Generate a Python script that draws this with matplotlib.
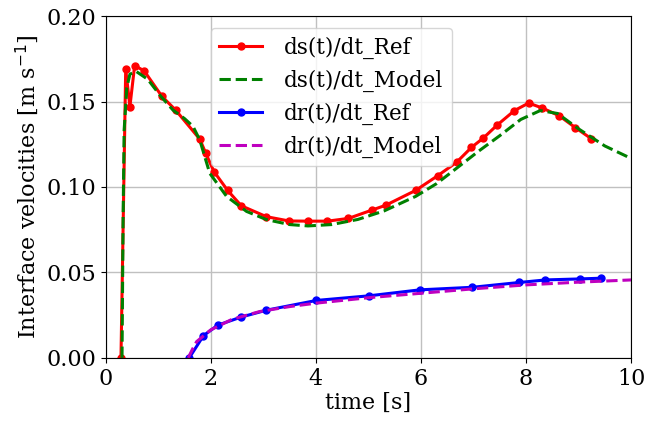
import matplotlib
matplotlib.use("Agg")
import matplotlib.pyplot as plt

plt.rcParams['font.family'] = ['DejaVu Serif']
plt.rcParams['font.size'] = 16

# ds/dt reference (markers)
t_s_ref = [0.29, 0.38, 0.46, 0.55, 0.73, 1.07, 1.33, 1.79, 1.90, 2.06, 2.32, 2.58,
           3.06, 3.49, 3.85, 4.22, 4.62, 5.06, 5.33, 5.90, 6.32, 6.68, 6.96, 7.19,
           7.45, 7.78, 8.05, 8.31, 8.63, 8.94, 9.24]
v_s_ref = [0.0, 0.169, 0.147, 0.171, 0.168, 0.153, 0.145, 0.128, 0.120, 0.109, 0.098, 0.089,
           0.0826, 0.0801, 0.0800, 0.0800, 0.0816, 0.0864, 0.0893, 0.098, 0.1066, 0.1145, 0.1231, 0.1287,
           0.1362, 0.1447, 0.1491, 0.1462, 0.1417, 0.1347, 0.1283]

# ds/dt model
t_s_mod = [0.31, 0.33, 0.35, 0.40, 0.46, 0.58, 0.80, 1.05, 1.28, 1.50, 1.66, 1.79, 1.98, 2.30,
           2.68, 3.06, 3.50, 3.85, 4.30, 4.80, 5.30, 5.90, 6.30, 6.68, 7.10, 7.50,
           7.90, 8.27, 8.60, 9.00, 9.50, 10.0]
v_s_mod = [0.0, 0.080, 0.133, 0.158, 0.166, 0.1676, 0.163, 0.153, 0.145, 0.140, 0.1355, 0.1275, 0.108, 0.0945,
           0.0857, 0.0809, 0.0780, 0.0772, 0.0780, 0.0810, 0.0860, 0.0945, 0.102, 0.111, 0.121, 0.130,
           0.1395, 0.1447, 0.143, 0.134, 0.124, 0.1167]

# dr/dt reference (markers)
t_r_ref = [1.59, 1.86, 2.13, 2.57, 3.06, 4.01, 5.01, 5.98, 6.98, 7.87, 8.37, 9.03, 9.42]
v_r_ref = [0.0, 0.0130, 0.0191, 0.0238, 0.0279, 0.0336, 0.0363, 0.0398, 0.0413, 0.0441, 0.0456, 0.0462, 0.0466]

# dr/dt model
t_r_mod = [1.57, 1.65, 1.73, 2.0, 2.4, 2.93, 3.5, 4.0, 5.0, 6.0, 7.0, 8.0, 9.0, 10.0]
v_r_mod = [0.0, 0.0050, 0.0095, 0.0164, 0.0225, 0.0271, 0.0300, 0.0320, 0.0352, 0.0378, 0.0404, 0.0427, 0.0443, 0.0456]

fig = plt.figure(figsize=(6.65, 4.23), dpi=100)
ax = fig.add_axes([0.159, 0.154, 0.79, 0.808])

ax.plot(t_s_ref, v_s_ref, 'r-', marker='o', lw=2.2, ms=5, label='ds(t)/dt_Ref')
ax.plot(t_s_mod, v_s_mod, 'g--', lw=2.2, label='ds(t)/dt_Model')
ax.plot(t_r_ref, v_r_ref, 'b-', marker='o', lw=2.2, ms=5, label='dr(t)/dt_Ref')
ax.plot(t_r_mod, v_r_mod, 'm--', lw=2.2, label='dr(t)/dt_Model')

ax.set_xlim(0, 10)
ax.set_ylim(0, 0.20)
ax.set_xticks([0, 2, 4, 6, 8, 10])
ax.set_yticks([0.0, 0.05, 0.10, 0.15, 0.20])
ax.set_xlabel('time [s]', labelpad=2)
ax.set_ylabel(r'Interface velocities [m s$^{-1}$]')
ax.grid(True, color='#c0c0c0', lw=1)
ax.legend(loc='upper left', bbox_to_anchor=(0.2, 0.965), borderaxespad=0,
          fontsize=15.5, labelspacing=0.5, handlelength=2.0, handletextpad=1.0)

fig.savefig('out.png', dpi=100)
